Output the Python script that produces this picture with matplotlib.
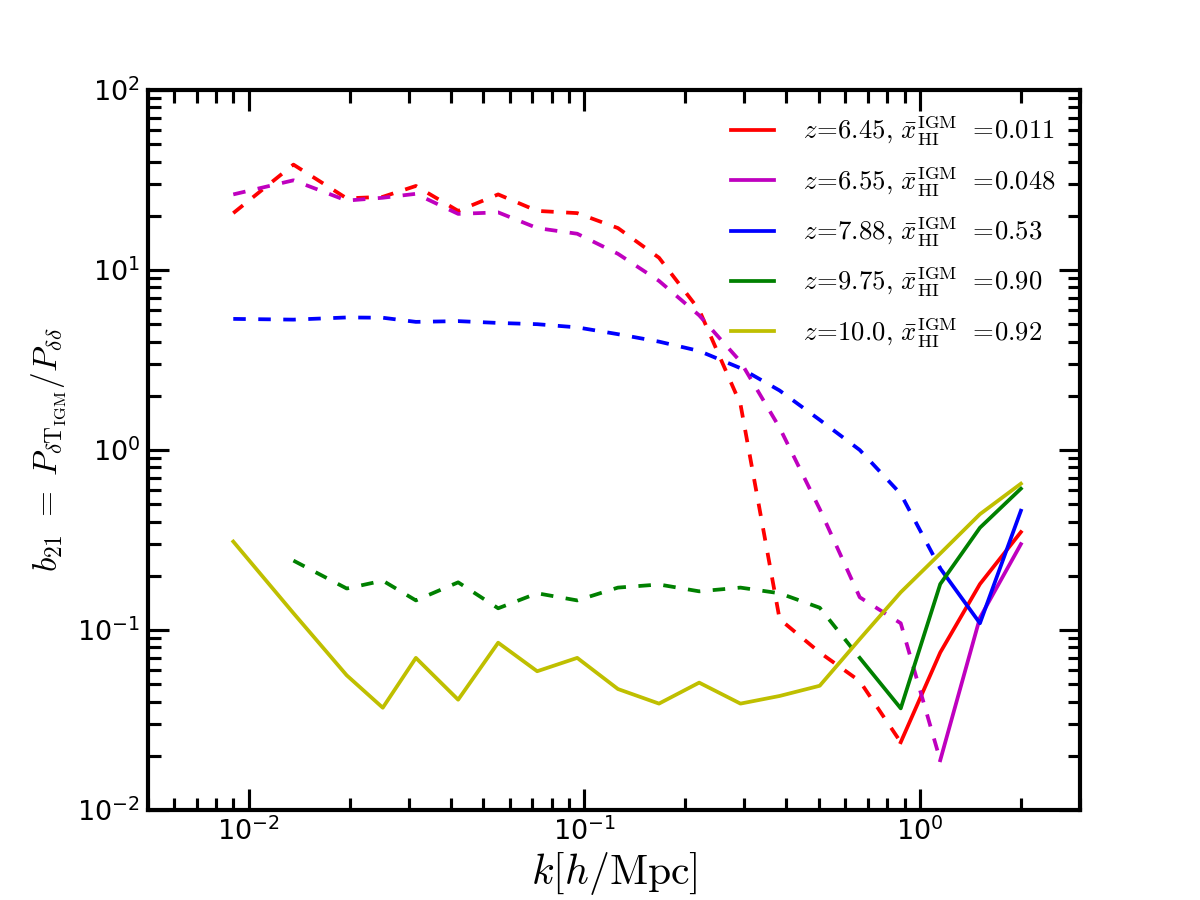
import matplotlib
matplotlib.use("Agg")
import matplotlib.pyplot as plt

plt.rcParams["mathtext.fontset"] = "cm"
plt.rcParams["axes.unicode_minus"] = False
plt.rcParams["lines.scale_dashes"] = False

# k bins [h/Mpc]
k = [0.009, 0.0136, 0.0196, 0.0251, 0.0315, 0.0421, 0.0554, 0.0724, 0.0953,
     0.126, 0.167, 0.220, 0.292, 0.382, 0.503, 0.662, 0.877, 1.15, 1.51, 2.0]

# |b21| for each redshift; dashed part = negative, solid part = positive
b_z645 = [20.7, 38.5, 25.0, 25.5, 29.3, 21.3, 26.3, 21.3, 20.7,
          17.1, 11.7, 6.0, 1.8, 0.115, 0.075, 0.052, 0.0238, 0.075, 0.18, 0.35]
b_z655 = [26.3, 31.5, 24.3, 25.2, 26.5, 20.5, 20.9, 17.1, 15.9,
          12.3, 8.7, 5.6, 3.1, 1.33, 0.47, 0.152, 0.109, 0.0189, 0.117, 0.30]
b_z788 = [5.35, 5.3, 5.45, 5.43, 5.15, 5.2, 5.08, 5.0, 4.8,
          4.4, 4.0, 3.55, 2.85, 2.14, 1.47, 1.0, 0.57, 0.22, 0.109, 0.46]
b_z975 = [None, 0.243, 0.170, 0.188, 0.146, 0.184, 0.132, 0.160, 0.146,
          0.172, 0.179, 0.164, 0.172, 0.160, 0.133, 0.070, 0.0367, 0.18, 0.37, 0.61]
b_z100 = [0.31, 0.124, 0.056, 0.037, 0.070, 0.041, 0.085, 0.059, 0.070,
          0.047, 0.039, 0.051, 0.039, 0.043, 0.049, 0.089, 0.162, 0.266, 0.44, 0.65]

# index where the sign flips (dashed up to it, solid from it)
flip = [16, 17, 17, 15, 0]
first = [0, 0, 0, 1, 0]

series = [b_z645, b_z655, b_z788, b_z975, b_z100]
colors = ["r", "m", "b", "g", "y"]
labels = [
    r"$z\!=\!6.45,\,\bar{x}_{\rm HI}^{\rm IGM}\;\,=\!0.011$",
    r"$z\!=\!6.55,\,\bar{x}_{\rm HI}^{\rm IGM}\;\,=\!0.048$",
    r"$z\!=\!7.88,\,\bar{x}_{\rm HI}^{\rm IGM}\;\,=\!0.53$",
    r"$z\!=\!9.75,\,\bar{x}_{\rm HI}^{\rm IGM}\;\,=\!0.90$",
    r"$z\!=\!10.0,\,\bar{x}_{\rm HI}^{\rm IGM}\;\,=\!0.92$",
]

fig, ax = plt.subplots(figsize=(8, 6), dpi=150)
fig.subplots_adjust(left=0.123, right=0.9, bottom=0.1, top=0.9)

for b, c, lab, i, i0 in zip(series, colors, labels, flip, first):
    if i > i0:
        ax.plot(k[i0:i + 1], b[i0:i + 1], color=c, lw=1.8, dashes=(6, 6))
    ax.plot(k[i:], b[i:], color=c, lw=1.8, label=lab)

ax.set_xscale("log")
ax.set_yscale("log")
ax.set_xlim(5e-3, 3.0)
ax.set_ylim(1e-2, 1e2)

ax.tick_params(which="both", direction="in", top=True, right=True, labelsize=13)
ax.tick_params(which="major", length=10, width=1.5)
ax.tick_params(which="minor", length=6, width=1.5)
for s in ax.spines.values():
    s.set_linewidth(2)

ax.set_xlabel(r"$k[h/{\rm Mpc}]$", fontsize=20, labelpad=2)
ax.set_ylabel(r"$b_{21}\ =\ P_{\delta {\rm T}_{\rm IGM}}/P_{\delta\delta}$", fontsize=16)

ax.legend(loc="upper right", frameon=False, fontsize=12.8, handlelength=1.6,
          handletextpad=1.1, labelspacing=0.6, borderaxespad=0.5)

plt.savefig("out.png", dpi=150)
plt.close()
